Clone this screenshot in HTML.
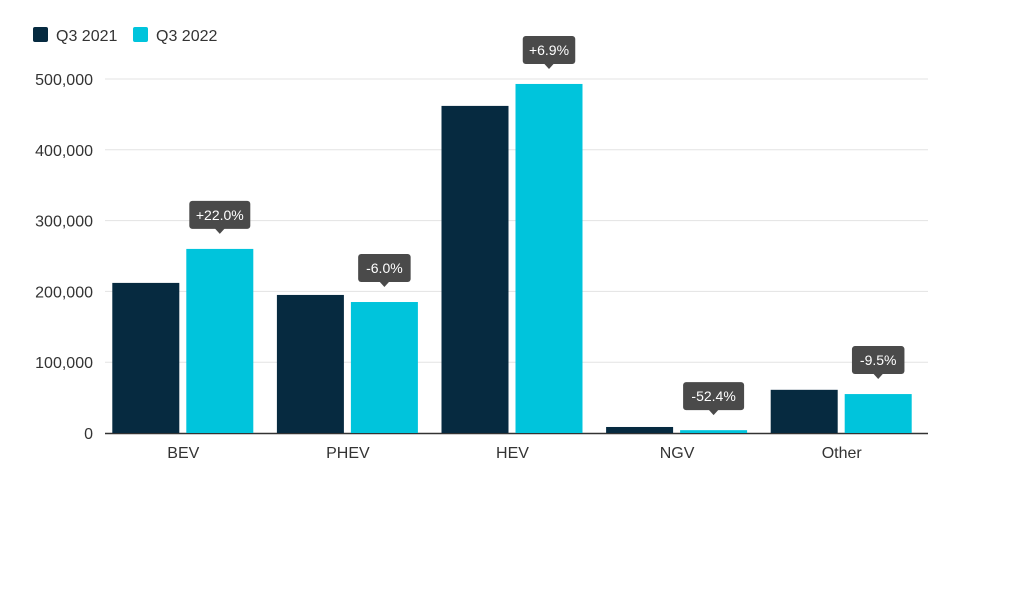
<!DOCTYPE html>
<html><head><meta charset="utf-8"><style>
body{margin:0;background:#fff;font-family:"Liberation Sans",sans-serif;}
svg{display:block}
</style></head><body>
<svg id="chart" width="1024" height="591" xmlns="http://www.w3.org/2000/svg">
<g>
<rect x="33" y="27" width="15" height="15" rx="2" fill="#062a40"/>
<text x="56" y="41" font-size="16" fill="#333">Q3 2021</text>
<rect x="133" y="27" width="15" height="15" rx="2" fill="#00c4dc"/>
<text x="156" y="41" font-size="16" fill="#333">Q3 2022</text>
</g>
<g id="grid"></g><g id="bars"></g><g id="labels"></g>
</svg>
<script>
const categories=["BEV","PHEV","HEV","NGV","Other"];
const q2021=[212000,195000,462000,8500,61000];
const q2022=[260000,185000,493000,4000,55000];
const changes=["+22.0%","-6.0%","+6.9%","-52.4%","-9.5%"];
const yTicks=[0,100000,200000,300000,400000,500000];
const yTickLabels=["0","100,000","200,000","300,000","400,000","500,000"];
const NS="http://www.w3.org/2000/svg";
const y0=433,yTop=79,x0=105,x1=928;
const y=v=>y0-(v/500000)*(y0-yTop);
const band=(x1-x0)/categories.length;
const bx=i=>x0+i*band;
function mk(t,a,p){const e=document.createElementNS(NS,t);for(const k in a)e.setAttribute(k,a[k]);p.appendChild(e);return e;}
const grid=document.getElementById('grid'),bars=document.getElementById('bars'),labels=document.getElementById('labels');
yTicks.forEach((v,i)=>{
 if(v>0){const l=mk('line',{x1:x0,x2:x1,y1:y(v),y2:y(v),stroke:'#e3e3e3','stroke-width':1},grid);
 
 }
 const t=mk('text',{x:93,y:y(v)+6,'text-anchor':'end','font-size':16,fill:'#333'},grid);
 t.textContent=yTickLabels[i];
 
 
});
const ax=mk('line',{x1:x0,x2:x1,y1:y0+0.5,y2:y0+0.5,stroke:'#333','stroke-width':1.5},grid);


const bw=67;
categories.forEach((c,i)=>{
 const cx=bx(i)+band/2;
 const a=mk('rect',{x:cx-75,y:y(q2021[i]),width:bw,height:y0-y(q2021[i]),fill:'#062a40'},bars);
 
 
 const b=mk('rect',{x:cx-1,y:y(q2022[i]),width:bw,height:y0-y(q2022[i]),fill:'#00c4dc'},bars);
 
 
 const t=mk('text',{x:cx-4,y:458,'text-anchor':'middle','font-size':16,fill:'#333'},labels);
 t.textContent=c;
 
 
 const lx=cx-1+bw/2, tip=y(q2022[i])-15;
 const g=mk('g',{},labels);
 
 
 const w=changes[i].length*8.5+10;
 mk('rect',{x:lx-w/2,y:tip-33,width:w,height:28,rx:3,fill:'#4a4a4a'},g);
 mk('path',{d:`M${lx-5} ${tip-5.5}L${lx} ${tip}L${lx+5} ${tip-5.5}Z`,fill:'#4a4a4a'},g);
 const tt=mk('text',{x:lx,y:tip-14,'text-anchor':'middle','font-size':14,fill:'#fff'},g);
 tt.textContent=changes[i];
});
</script>
</body></html>
